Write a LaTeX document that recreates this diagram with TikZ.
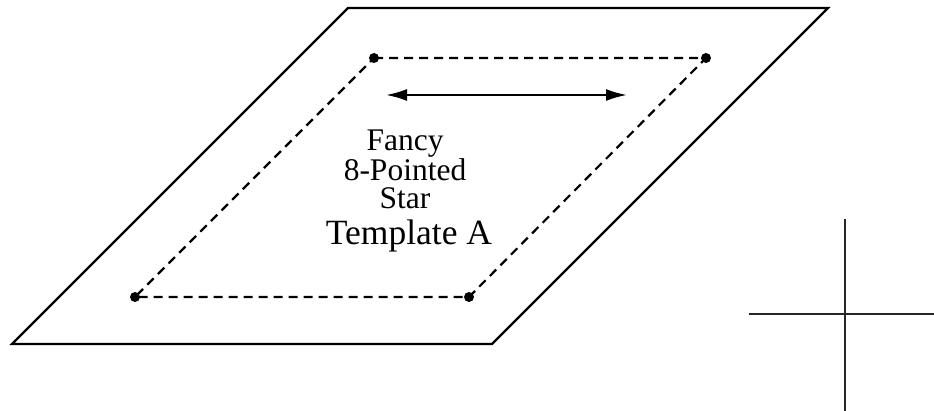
\documentclass[tikz,border=0pt]{standalone}
\usepackage{fontspec}
\setmainfont{Liberation Serif}
\usetikzlibrary{arrows.meta}
\begin{document}
\begin{tikzpicture}[x=1pt, y=-1pt, line join=miter,
        outline/.style={line width=2.2pt},
        guide/.style={line width=2.2pt, dash pattern=on 9pt off 6pt},
        pin/.style={circle, fill, inner sep=0pt, minimum size=10pt}]
        \useasboundingbox (0,0) rectangle (934,411);

        % outer template
        \coordinate (tl) at (348, 8);
        \coordinate (tr) at (828, 8);
        \coordinate (br) at (492,344);
        \coordinate (bl) at ( 12,344);
        \draw[outline] (tl) -- (tr) -- (br) -- (bl) -- cycle;

        % seam line
        \node[pin] (ptl) at (374, 58) {};
        \node[pin] (ptr) at (706, 58) {};
        \node[pin] (pbr) at (469,297) {};
        \node[pin] (pbl) at (135,297) {};
        \draw[guide] (ptl.center) -- (ptr.center) -- (pbr.center) -- (pbl.center) -- cycle;

        % grain direction
        \coordinate (gl) at (386, 95);
        \coordinate (gr) at (627, 95);
        \draw[line width=2.2pt, {Latex[length=21pt,width=12pt]}-{Latex[length=21pt,width=12pt]}] (gl) -- (gr);

        \node[anchor=base, align=center, inner sep=0pt,
              font=\fontsize{31.5}{28.5}\selectfont] (title) at (405,209) {Fancy\\8-Pointed\\Star};
        \node[anchor=base, inner sep=0pt,
              font=\fontsize{35.5}{36}\selectfont] (name) at (409,245) {Template A};

        % registration mark
        \coordinate (ct) at (845,219);
        \coordinate (cb) at (845,411);
        \coordinate (cl) at (749,314);
        \coordinate (cr) at (934,314);
        \draw[line width=1.6pt, black!85] (ct) -- (cb);
        \draw[line width=1.6pt, black!85] (cl) -- (cr);
\end{tikzpicture}
\end{document}
